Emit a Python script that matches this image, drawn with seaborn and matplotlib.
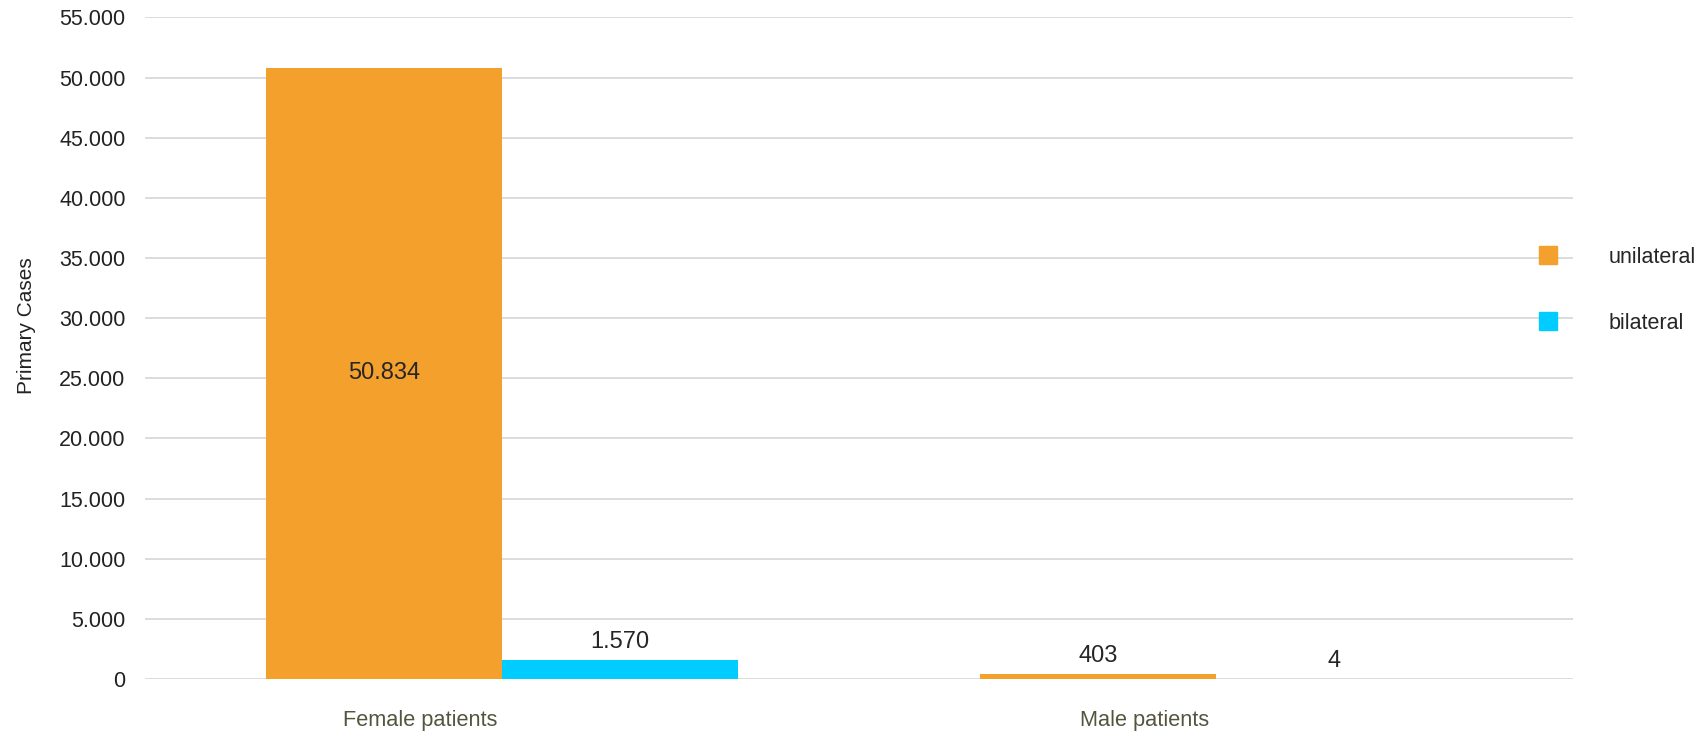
import pandas as pd
import seaborn as sns
import matplotlib.pyplot as plt
from matplotlib.lines import Line2D

# data
groups = ['Female patients', 'Male patients']
sides = ['unilateral', 'bilateral']
unilateral = [50834, 403]
bilateral = [1570, 4]
colors = {'unilateral': '#F4A02D', 'bilateral': '#00CCFF'}
yticks = list(range(0, 55001, 5000))

df = pd.DataFrame({
    'group': groups * 2,
    'side': ['unilateral'] * 2 + ['bilateral'] * 2,
    'cases': unilateral + bilateral,
})

sns.set_style('white')
plt.rcParams['font.family'] = ['Liberation Sans', 'DejaVu Sans']

fig = plt.figure(figsize=(17.06, 7.31), dpi=100)
ax = fig.add_axes([0.085, 0.0711, 0.837, 0.905])

sns.barplot(data=df, x='group', y='cases', hue='side', order=groups,
            hue_order=sides, palette=colors, width=0.66, saturation=1,
            linewidth=0, errorbar=None, ax=ax, legend=False)

ax.set_xlim(-0.5, 1.5)
ax.set_ylim(0, 55000)
ax.set_yticks(yticks)
ax.set_yticklabels([f'{t:,}'.replace(',', '.') for t in yticks],
                   fontsize=15.5, color='#222222')
ax.tick_params(axis='y', length=0, pad=14)

# category labels sit a bit left of the group centre in the original
ax.set_xticks([-0.115, 0.9])
ax.set_xticklabels(groups)
ax.tick_params(axis='x', length=0, pad=22, labelsize=15.7, labelcolor='#55553f')
ax.yaxis.grid(True, color='#d9d9d9', linewidth=1.3)
ax.set_axisbelow(True)
for s in ax.spines.values():
    s.set_visible(False)

ax.set_xlabel('')
ax.set_ylabel('Primary Cases', fontsize=15, color='#222222')
ax.yaxis.set_label_coords(-0.076, 0.534)

def fmt(v):
    return f'{v:,.0f}'.replace(',', '.')

for cont in ax.containers:
    for bar in cont:
        v = bar.get_height()
        cx = bar.get_x() + bar.get_width() / 2
        if v > 10000:
            ax.text(cx, v / 2, fmt(v), ha='center', va='center', fontsize=17)
        else:
            ax.annotate(fmt(v), (cx, v), xytext=(0, 13), textcoords='offset points',
                        ha='center', va='center', fontsize=17)

handles = [Line2D([], [], marker='s', linestyle='', markersize=13,
                  markerfacecolor=colors[s], markeredgecolor=colors[s]) for s in sides]
fig.legend(handles, sides, loc='center left', bbox_to_anchor=(0.8897, 0.603),
           frameon=False, fontsize=15.5, handlelength=1, handletextpad=2.3,
           labelspacing=2.1)

fig.savefig('out.png', dpi=100)
